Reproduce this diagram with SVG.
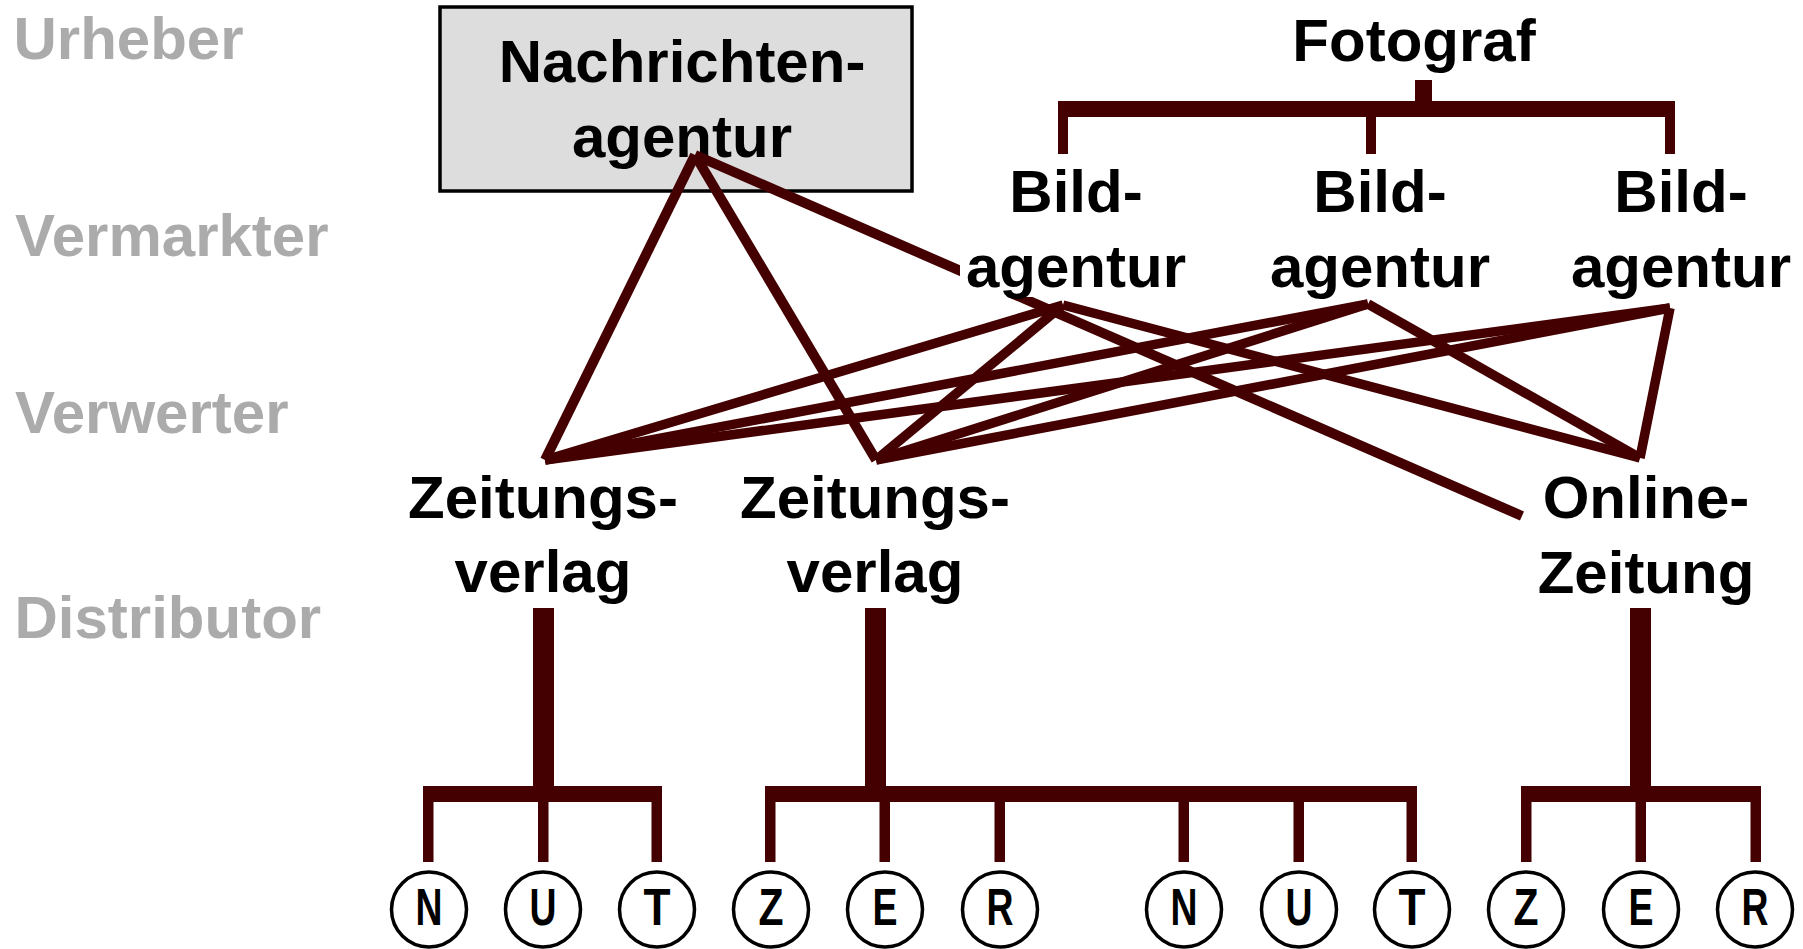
<svg xmlns="http://www.w3.org/2000/svg" width="1803" height="949" viewBox="0 0 1803 949">
<style>
.lvl{font-family:"Liberation Sans",Arial,sans-serif;font-weight:bold;font-size:60px;fill:#ababab}
.lbl{font-family:"Liberation Sans",Arial,sans-serif;font-weight:bold;font-size:60px;fill:#000;text-anchor:middle}
.let{font-family:"Liberation Sans",Arial,sans-serif;font-weight:bold;font-size:51px;fill:#000;text-anchor:middle}
.ln{stroke:#440001;fill:none;stroke-linecap:butt}
.n{stroke-width:10}
.b{stroke-width:9.5}
.br{fill:#440001}
.c{fill:#fff;stroke:#000;stroke-width:3.5}
</style>
<g id="levels">
<text class="lvl" x="13.5" y="59">Urheber</text>
<text class="lvl" x="15" y="256">Vermarkter</text>
<text class="lvl" x="15" y="433">Verwerter</text>
<text class="lvl" x="14.5" y="638">Distributor</text>
</g>
<g id="nachrichtenagentur">
<rect x="440" y="7" width="472" height="184" fill="#dddddd" stroke="#000" stroke-width="3.5"/>
<text class="lbl" x="682" y="82">Nachrichten-</text>
<text class="lbl" x="682" y="157">agentur</text>
</g>
<g id="connectors">
<line class="ln n" x1="695" y1="155" x2="545" y2="460"/>
<line class="ln n" x1="695" y1="155" x2="876" y2="460"/>
<line class="ln n" x1="695" y1="155" x2="1522" y2="516"/>
<line class="ln b" x1="1063" y1="305" x2="545" y2="460"/>
<line class="ln b" x1="1063" y1="305" x2="876" y2="460"/>
<line class="ln b" x1="1063" y1="305" x2="1640" y2="458"/>
<line class="ln b" x1="1368" y1="304" x2="545" y2="460"/>
<line class="ln b" x1="1368" y1="304" x2="876" y2="460"/>
<line class="ln b" x1="1368" y1="304" x2="1640" y2="458"/>
<line class="ln b" x1="1670" y1="308" x2="545" y2="460"/>
<line class="ln b" x1="1670" y1="308" x2="876" y2="460"/>
<line class="ln b" x1="1670" y1="308" x2="1640" y2="458"/>
<!-- Fotograf bracket -->
<rect class="br" x="1415" y="80" width="17" height="22"/>
<rect class="br" x="1058" y="101" width="617" height="16"/>
<rect class="br" x="1058" y="101" width="10" height="53"/>
<rect class="br" x="1366" y="101" width="10" height="53"/>
<rect class="br" x="1665" y="101" width="10" height="53"/>
<!-- Distributor bracket 1 -->
<rect class="br" x="533" y="608" width="21" height="178"/>
<rect class="br" x="423" y="786" width="239" height="16"/>
<rect class="br" x="423" y="786" width="10.5" height="76"/>
<rect class="br" x="538" y="786" width="10.5" height="76"/>
<rect class="br" x="651.5" y="786" width="10.5" height="76"/>
<!-- Distributor bracket 2 -->
<rect class="br" x="865" y="608" width="21" height="178"/>
<rect class="br" x="765" y="786" width="652" height="16"/>
<rect class="br" x="765" y="786" width="10.5" height="76"/>
<rect class="br" x="879.5" y="786" width="10.5" height="76"/>
<rect class="br" x="994.5" y="786" width="10.5" height="76"/>
<rect class="br" x="1178.5" y="786" width="10.5" height="76"/>
<rect class="br" x="1293.5" y="786" width="10.5" height="76"/>
<rect class="br" x="1406.5" y="786" width="10.5" height="76"/>
<!-- Distributor bracket 3 -->
<rect class="br" x="1630" y="608" width="21" height="178"/>
<rect class="br" x="1521" y="786" width="240" height="16"/>
<rect class="br" x="1521" y="786" width="10.5" height="76"/>
<rect class="br" x="1635.5" y="786" width="10.5" height="76"/>
<rect class="br" x="1750.5" y="786" width="10.5" height="76"/>
</g>
<g id="fotograf">
<text class="lbl" x="1414" y="61">Fotograf</text>
</g>
<g id="bildagentur1">
<rect x="960" y="226" width="234" height="71" fill="#fff"/>
<text class="lbl" x="1076" y="212">Bild-</text>
<text class="lbl" x="1076" y="287">agentur</text>
</g>
<g id="bildagentur2">
<text class="lbl" x="1380" y="212">Bild-</text>
<text class="lbl" x="1380" y="287">agentur</text>
</g>
<g id="bildagentur3">
<text class="lbl" x="1681" y="212">Bild-</text>
<text class="lbl" x="1681" y="287">agentur</text>
</g>
<g id="zeitungsverlag1">
<text class="lbl" x="543" y="518">Zeitungs-</text>
<text class="lbl" x="543" y="592">verlag</text>
</g>
<g id="zeitungsverlag2">
<text class="lbl" x="875" y="518">Zeitungs-</text>
<text class="lbl" x="875" y="592">verlag</text>
</g>
<g id="onlinezeitung">
<text class="lbl" x="1646" y="518">Online-</text>
<text class="lbl" x="1646" y="593">Zeitung</text>
</g>
<g id="nutzer1-N"><circle class="c" cx="429" cy="909.5" r="37.5"/><text class="let" x="429" y="925" textLength="27" lengthAdjust="spacingAndGlyphs">N</text></g>
<g id="nutzer1-U"><circle class="c" cx="543" cy="909.5" r="37.5"/><text class="let" x="543" y="925" textLength="27" lengthAdjust="spacingAndGlyphs">U</text></g>
<g id="nutzer1-T"><circle class="c" cx="657" cy="909.5" r="37.5"/><text class="let" x="657" y="925" textLength="27" lengthAdjust="spacingAndGlyphs">T</text></g>
<g id="nutzer1-Z"><circle class="c" cx="771" cy="909.5" r="37.5"/><text class="let" x="771" y="925" textLength="25" lengthAdjust="spacingAndGlyphs">Z</text></g>
<g id="nutzer1-E"><circle class="c" cx="885" cy="909.5" r="37.5"/><text class="let" x="885" y="925" textLength="25" lengthAdjust="spacingAndGlyphs">E</text></g>
<g id="nutzer1-R"><circle class="c" cx="1000" cy="909.5" r="37.5"/><text class="let" x="1000" y="925" textLength="27" lengthAdjust="spacingAndGlyphs">R</text></g>
<g id="nutzer2-N"><circle class="c" cx="1184" cy="909.5" r="37.5"/><text class="let" x="1184" y="925" textLength="27" lengthAdjust="spacingAndGlyphs">N</text></g>
<g id="nutzer2-U"><circle class="c" cx="1299" cy="909.5" r="37.5"/><text class="let" x="1299" y="925" textLength="27" lengthAdjust="spacingAndGlyphs">U</text></g>
<g id="nutzer2-T"><circle class="c" cx="1412" cy="909.5" r="37.5"/><text class="let" x="1412" y="925" textLength="27" lengthAdjust="spacingAndGlyphs">T</text></g>
<g id="nutzer2-Z"><circle class="c" cx="1526" cy="909.5" r="37.5"/><text class="let" x="1526" y="925" textLength="25" lengthAdjust="spacingAndGlyphs">Z</text></g>
<g id="nutzer2-E"><circle class="c" cx="1641" cy="909.5" r="37.5"/><text class="let" x="1641" y="925" textLength="25" lengthAdjust="spacingAndGlyphs">E</text></g>
<g id="nutzer2-R"><circle class="c" cx="1755" cy="909.5" r="37.5"/><text class="let" x="1755" y="925" textLength="27" lengthAdjust="spacingAndGlyphs">R</text></g>
</svg>
